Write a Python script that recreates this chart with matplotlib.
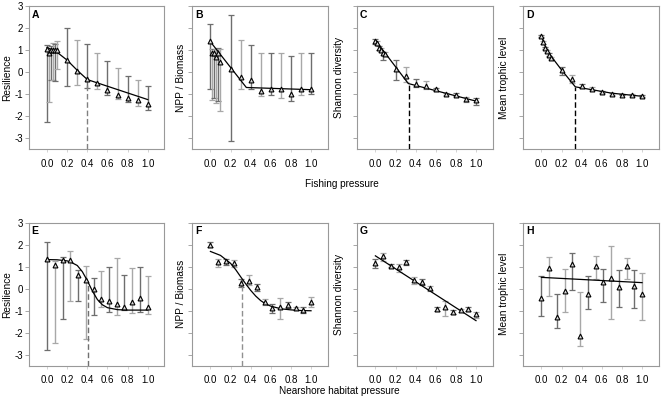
import numpy as np
import matplotlib
matplotlib.use("Agg")
import matplotlib.pyplot as plt

plt.rcParams["font.family"] = ["Liberation Sans", "DejaVu Sans"]

# ---- fishing pressure panels (A-D) ----
x_fish = [0.0, 0.02, 0.04, 0.06, 0.08, 0.1, 0.2, 0.3, 0.4, 0.5, 0.6, 0.7, 0.8, 0.9, 1.0]

a_mean = [1.04, 0.85, 1.0, 1.0, 1.02, 1.0, 0.54, 0.07, -0.33, -0.5, -0.82, -1.02, -1.17, -1.28, -1.43]
a_hi = [1.25, 1.12, 1.2, 1.33, 1.3, 1.42, 2.0, 1.45, 1.29, 0.88, 0.5, 0.2, -0.17, -0.37, -0.64]
a_lo = [-2.25, -1.36, -0.37, -0.35, -0.4, 0.16, -0.64, -0.57, -0.72, -0.75, -1.02, -1.22, -1.37, -1.55, -1.73]
a_fit_x = [0.0, 0.1, 0.2, 0.3, 0.4, 1.0]
a_fit_y = [1.12, 0.9, 0.54, 0.08, -0.34, -1.25]

b_mean = [1.42, 0.89, 0.88, 0.69, 0.89, 0.47, 0.13, -0.22, -0.38, -0.87, -0.79, -0.79, -0.98, -0.79, -0.78]
b_hi = [2.18, 1.07, 1.07, 1.07, 1.1, 1.07, 2.59, 1.48, 1.25, 0.85, 0.85, 0.85, 0.75, 0.85, 0.85]
b_lo = [-0.75, -1.25, -1.16, -1.39, -1.33, -1.77, -3.13, -0.79, -0.79, -1.11, -1.02, -1.17, -1.32, -1.02, -0.98]
b_fit_x = [0.0, 0.357, 1.0]
b_fit_y = [1.38, -0.7, -0.8]

c_mean = [1.41, 1.33, 1.1, 1.0, 0.85, 0.81, 0.16, -0.19, -0.52, -0.64, -0.79, -1.0, -1.02, -1.22, -1.28]
c_hi = [1.51, 1.42, 1.2, 1.08, 0.93, 0.9, 0.54, 0.24, -0.31, -0.41, -0.72, -0.94, -0.95, -1.13, -1.17]
c_lo = [1.3, 1.24, 1.0, 0.92, 0.54, 0.72, -0.37, -0.44, -0.67, -0.79, -0.86, -1.06, -1.11, -1.36, -1.48]
c_fit_x = [0.0, 0.327, 1.0]
c_fit_y = [1.45, -0.52, -1.32]

d_mean = [1.65, 1.35, 1.1, 0.97, 0.8, 0.66, 0.09, -0.32, -0.61, -0.75, -0.9, -1.0, -1.02, -1.05, -1.08]
d_hi = [1.7, 1.4, 1.15, 1.02, 0.85, 0.71, 0.24, -0.14, -0.52, -0.7, -0.85, -0.96, -0.98, -1.01, -1.04]
d_lo = [1.6, 1.3, 1.05, 0.92, 0.75, 0.61, -0.14, -0.49, -0.73, -0.8, -0.95, -1.04, -1.06, -1.09, -1.12]
d_fit_x = [0.0, 0.02, 0.05, 0.1, 0.2, 0.337, 0.5, 0.7, 1.0]
d_fit_y = [1.65, 1.38, 1.05, 0.7, 0.1, -0.67, -0.8, -0.96, -1.1]

# ---- nearshore habitat pressure panels (E-H) ----
x_hab = [0.0, 0.077, 0.154, 0.231, 0.308, 0.385, 0.462, 0.538, 0.615, 0.692, 0.769, 0.846, 0.923, 1.0]

e_mean = [1.36, 1.1, 1.31, 1.32, 0.62, 0.4, -0.02, -0.47, -0.55, -0.7, -0.81, -0.62, -0.44, -0.81]
e_hi = [2.12, 1.25, 1.46, 1.7, 0.85, 1.05, 0.47, 0.82, 0.97, 1.39, 0.64, 0.93, 1.0, 0.6]
e_lo = [-2.79, -2.48, -1.36, -0.57, -0.57, -2.3, -1.19, -0.81, -1.05, -1.2, -0.97, -1.11, -1.05, -1.16]
e_fit_x = [0.0, 0.1, 0.2, 0.25, 0.3, 0.35, 0.4, 0.45, 0.5, 0.55, 0.6, 0.7, 0.8, 1.0]
e_fit_y = [1.33, 1.32, 1.27, 1.18, 1.06, 0.78, 0.37, -0.1, -0.49, -0.73, -0.86, -0.95, -0.97, -0.97]

f_mean = [2.01, 1.2, 1.25, 1.16, 0.26, 0.37, 0.06, -0.62, -0.88, -0.85, -0.73, -0.88, -0.97, -0.58]
f_hi = [2.15, 1.36, 1.36, 1.31, 0.44, 0.62, 0.24, -0.47, -0.7, -0.4, -0.59, -0.81, -0.81, -0.38]
f_lo = [1.92, 1.0, 1.1, 0.97, 0.06, 0.17, -0.09, -0.75, -1.11, -1.39, -0.88, -0.97, -1.11, -0.81]
f_fit_x = [0.0, 0.1, 0.2, 0.25, 0.3, 0.35, 0.4, 0.45, 0.5, 0.55, 0.6, 0.7, 0.8, 0.9, 1.0]
f_fit_y = [1.7, 1.52, 1.16, 0.88, 0.55, 0.23, -0.07, -0.33, -0.54, -0.69, -0.79, -0.91, -0.96, -0.99, -1.0]

g_mean = [1.17, 1.48, 1.05, 0.97, 1.2, 0.4, 0.29, 0.02, -0.9, -0.81, -1.05, -0.97, -0.93, -1.16]
g_hi = [1.36, 1.63, 1.12, 1.12, 1.3, 0.52, 0.44, 0.11, -0.81, -0.55, -0.96, -0.9, -0.82, -1.05]
g_lo = [0.93, 1.28, 0.98, 0.78, 1.1, 0.21, 0.17, -0.08, -1.0, -1.26, -1.14, -1.06, -1.03, -1.31]
g_fit_x = [0.0, 1.0]
g_fit_y = [1.5, -1.45]

h_mean = [-0.41, 0.93, -1.28, -0.11, 1.11, -2.15, -0.24, 1.04, 0.29, 0.49, 0.08, 1.02, 0.11, -0.26]
h_hi = [0.56, 1.43, -0.24, 0.88, 1.61, -0.14, 0.59, 1.51, 0.91, 1.95, 0.87, 1.4, 0.84, 0.73]
h_lo = [-1.26, -0.33, -1.77, -1.04, -0.05, -2.6, -0.9, 0.44, -0.59, -1.39, -0.81, 0.44, -0.88, -1.42]
h_fit_x = [0.0, 1.0]
h_fit_y = [0.52, 0.28]

panels = [
    ("A", "Resilience", x_fish, a_mean, a_hi, a_lo, a_fit_x, a_fit_y, (0.4, -0.34, "#808080"), -0.125),
    ("B", "NPP / Biomass", x_fish, b_mean, b_hi, b_lo, b_fit_x, b_fit_y, None, -0.05),
    ("C", "Shannon diversity", x_fish, c_mean, c_hi, c_lo, c_fit_x, c_fit_y, (0.33, -0.52, "black"), -0.095),
    ("D", "Mean trophic level", x_fish, d_mean, d_hi, d_lo, d_fit_x, d_fit_y, (0.337, -0.67, "black"), -0.105),
    ("E", "Resilience", x_hab, e_mean, e_hi, e_lo, e_fit_x, e_fit_y, (0.41, 0.25, "#707070"), -0.125),
    ("F", "NPP / Biomass", x_hab, f_mean, f_hi, f_lo, f_fit_x, f_fit_y, (0.318, 0.44, "#909090"), -0.05),
    ("G", "Shannon diversity", x_hab, g_mean, g_hi, g_lo, g_fit_x, g_fit_y, None, -0.095),
    ("H", "Mean trophic level", x_hab, h_mean, h_hi, h_lo, h_fit_x, h_fit_y, None, -0.105),
]

fig = plt.figure(figsize=(6.62, 4.0), dpi=100)
lefts = [0.0438, 0.2905, 0.5397, 0.7905]
bottoms = [0.6275, 0.0858]
w, h = 0.2044, 0.357
frame = "#999999"
bar_cols = ["#6e6e6e", "#a8a8a8"]

for i, (lab, ylab, x, m, hi, lo, fx, fy, thr, ylx) in enumerate(panels):
    ax = fig.add_axes([lefts[i % 4], bottoms[i // 4], w, h])
    m = np.array(m)
    hi = np.array(hi)
    lo = np.array(lo)
    for j in range(len(x)):
        ax.errorbar(x[j], m[j], yerr=[[m[j] - lo[j]], [hi[j] - m[j]]], fmt="none",
                    ecolor=bar_cols[j % 2], elinewidth=1.0, capsize=2.2, capthick=0.9, zorder=2)
    if thr is not None:
        ax.plot([thr[0], thr[0]], [-3.5, thr[1]], ls=(0, (4, 2)), color=thr[2], lw=1.0, zorder=3)
    ax.plot(fx, fy, color="black", lw=0.9, zorder=4)
    ax.plot(x, m, ls="none", marker="^", ms=3.5, mfc="#d9d9d9", mec="black", mew=0.8, zorder=5)

    ax.set_xlim(-0.18, 1.165)
    ax.set_ylim(-3.5, 3.0)
    ax.set_xticks([0.0, 0.2, 0.4, 0.6, 0.8, 1.0])
    ax.set_xticklabels(["0.0", "0.2", "0.4", "0.6", "0.8", "1.0"], fontsize=7)
    ax.set_yticks([-3, -2, -1, 0, 1, 2, 3])
    if i % 4 == 0:
        ax.set_yticklabels(["-3", "-2", "-1", "0", "1", "2", "3"], fontsize=7)
    else:
        ax.set_yticklabels([])
    ax.tick_params(axis="y", length=3, width=0.6, color=frame, pad=1.5)
    ax.tick_params(axis="x", length=2, width=0.6, color="#cccccc", pad=5)
    for s in ax.spines.values():
        s.set_color(frame)
        s.set_linewidth(0.8)
    ax.set_ylabel(ylab, fontsize=7.3)
    ax.yaxis.set_label_coords(ylx, 0.5)
    ax.text(0.02, 0.975, lab, transform=ax.transAxes, fontsize=7.5, fontweight="bold",
            ha="left", va="top")

fig.text(0.517, 1 - 184 / 400, "Fishing pressure", fontsize=7.2, ha="center", va="center")
fig.text(0.512, 1 - 391 / 400, "Nearshore habitat pressure", fontsize=7.2, ha="center", va="center")

fig.savefig("out.png", dpi=100)
